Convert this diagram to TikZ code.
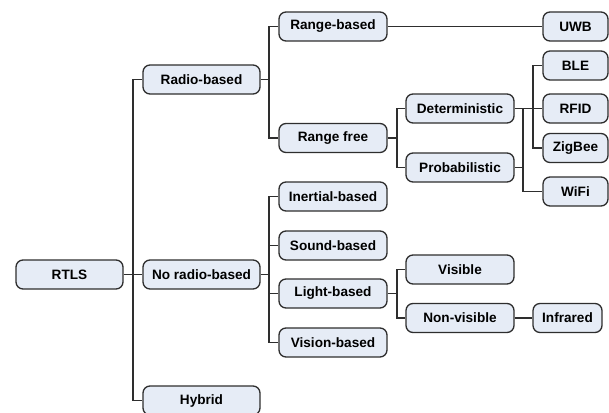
\documentclass[tikz,border=0pt]{standalone}
\usepackage{fontspec}
\setmainfont{Liberation Sans}
\definecolor{boxfill}{HTML}{E6ECF6}
\definecolor{boxline}{HTML}{2E2E2E}
\begin{document}
\begin{tikzpicture}[x=1pt,y=-1pt,
  tbox/.style={draw=boxline,fill=boxfill,line width=1.3pt,rounded corners=7pt,
    minimum height=29pt,inner sep=0pt,font=\fontsize{13.6}{16}\selectfont\bfseries,text=black},
  w117/.style={tbox,minimum width=117pt},
  w108/.style={tbox,minimum width=108pt},
  w65/.style={tbox,minimum width=65pt},
  conn/.style={draw=boxline,line width=1.3pt}]
\useasboundingbox (0,0) rectangle (609,412);
\node[tbox,minimum width=107pt] (rtls) at (69.5,274.5) {RTLS};
\node[w117] (radio) at (201.5,79.5) {Radio-based};
\node[w117] (noradio) at (201.5,274.5) {No radio-based};
\node[w117] (hybrid) at (201.5,400.5) {Hybrid};
\node[w108] (rangeb) at (333,26.5) {Range-based};
\node[w108] (rangef) at (333,138) {Range free};
\node[w108] (inert) at (333,196.5) {Inertial-based};
\node[w108] (sound) at (333,245.5) {Sound-based};
\node[w108] (light) at (333,293.5) {Light-based};
\node[w108] (vision) at (333,342.5) {Vision-based};
\node[w108] (det) at (460,108.5) {Deterministic};
\node[w108] (prob) at (460,167.5) {Probabilistic};
\node[w108] (visible) at (460,269.5) {Visible};
\node[w108] (nonvis) at (460,318) {Non-visible};
\node[w65] (uwb) at (575.5,26.5) {UWB};
\node[w65] (ble) at (575.5,65.5) {BLE};
\node[w65] (rfid) at (575.5,108.5) {RFID};
\node[w65] (zig) at (575.5,148) {ZigBee};
\node[w65] (wifi) at (575.5,191.5) {WiFi};
\node[tbox,minimum width=69pt] (infra) at (567.5,318) {Infrared};
\coordinate (jA) at (133,0);
\coordinate (jB) at (269,0);
\coordinate (jC) at (397,0);
\coordinate (jD) at (523,0);
\coordinate (jE) at (533,0);
\begin{scope}[conn]
\draw (rtls.east) -- (noradio.west);
\draw (radio.west) -- (radio.west -| jA) |- (hybrid.west);
\draw (radio.east) -- (radio.east -| jB);
\draw (rangeb.west) -- (rangeb.west -| jB) |- (rangef.west);
\draw (rangeb.east) -- (uwb.west);
\draw (rangef.east) -- (rangef.east -| jC);
\draw (det.west) -- (det.west -| jC) |- (prob.west);
\draw (det.east) -- (rfid.west);
\draw (ble.west) -- (ble.west -| jE) |- (zig.west);
\draw (det.east -| jD) |- (wifi.west);
\draw (prob.east) -- (prob.east -| jD);
\draw (noradio.east) -- (noradio.east -| jB);
\draw (inert.west) -- (inert.west -| jB) |- (vision.west);
\draw (sound.west) -- (sound.west -| jB);
\draw (light.west) -- (light.west -| jB);
\draw (light.east) -- (light.east -| jC);
\draw (visible.west) -- (visible.west -| jC) |- (nonvis.west);
\draw (nonvis.east) -- (infra.west);
\end{scope}
\end{tikzpicture}
\end{document}
